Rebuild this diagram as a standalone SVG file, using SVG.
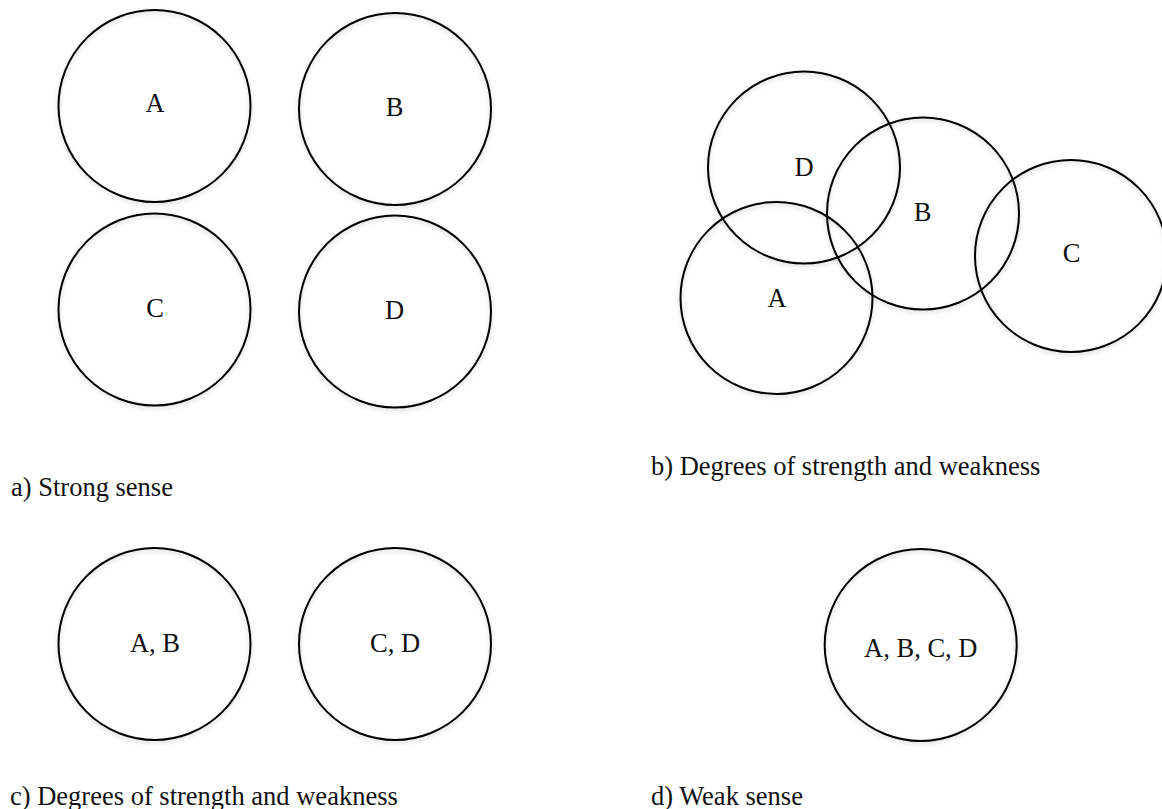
<svg xmlns="http://www.w3.org/2000/svg" width="1162" height="809" viewBox="0 0 1162 809">
<style>
.c{fill:none;stroke:#000;stroke-width:2;filter:url(#sh)}
.t{font-family:"Liberation Serif","Times New Roman",serif;font-size:26.5px;fill:#111}
.m{text-anchor:middle}
</style>
<defs>
<filter id="sh" x="-10%" y="-10%" width="120%" height="125%">
<feDropShadow dx="0" dy="2" stdDeviation="2" flood-color="#000" flood-opacity="0.18"/>
</filter>
</defs>
<rect width="1162" height="809" fill="#fff"/>
<g id="panel-a">
<g id="a-A"><circle class="c" cx="154.5" cy="106" r="96"/><text class="t m" x="155" y="112">A</text></g>
<g id="a-B"><circle class="c" cx="395" cy="109" r="96"/><text class="t m" x="394.5" y="116">B</text></g>
<g id="a-C"><circle class="c" cx="154.5" cy="309.5" r="96"/><text class="t m" x="155" y="317">C</text></g>
<g id="a-D"><circle class="c" cx="395" cy="311.5" r="96"/><text class="t m" x="394.5" y="319">D</text></g>
<text class="t" x="11" y="496">a) Strong sense</text>
</g>
<g id="panel-b">
<g id="b-D"><circle class="c" cx="804" cy="167.5" r="96"/><text class="t m" x="804" y="175.5">D</text></g>
<g id="b-B"><circle class="c" cx="923" cy="213.5" r="96"/><text class="t m" x="922.5" y="221">B</text></g>
<g id="b-C"><circle class="c" cx="1071" cy="256" r="96"/><text class="t m" x="1071.5" y="262">C</text></g>
<g id="b-A"><circle class="c" cx="776.5" cy="298" r="96"/><text class="t m" x="777" y="306.5">A</text></g>
<text class="t" x="651" y="475">b) Degrees of strength and weakness</text>
</g>
<g id="panel-c">
<g id="c-AB"><circle class="c" cx="154.5" cy="644" r="96"/><text class="t m" x="155" y="651.5">A, B</text></g>
<g id="c-CD"><circle class="c" cx="395" cy="644" r="96"/><text class="t m" x="395" y="651.5">C, D</text></g>
<text class="t" x="10" y="805">c) Degrees of strength and weakness</text>
</g>
<g id="panel-d">
<g id="d-ABCD"><circle class="c" cx="920.7" cy="645" r="96"/><text class="t m" x="920.8" y="656.5">A, B, C, D</text></g>
<text class="t" x="651" y="805">d) Weak sense</text>
</g>
<g id="connectors"/>
</svg>
